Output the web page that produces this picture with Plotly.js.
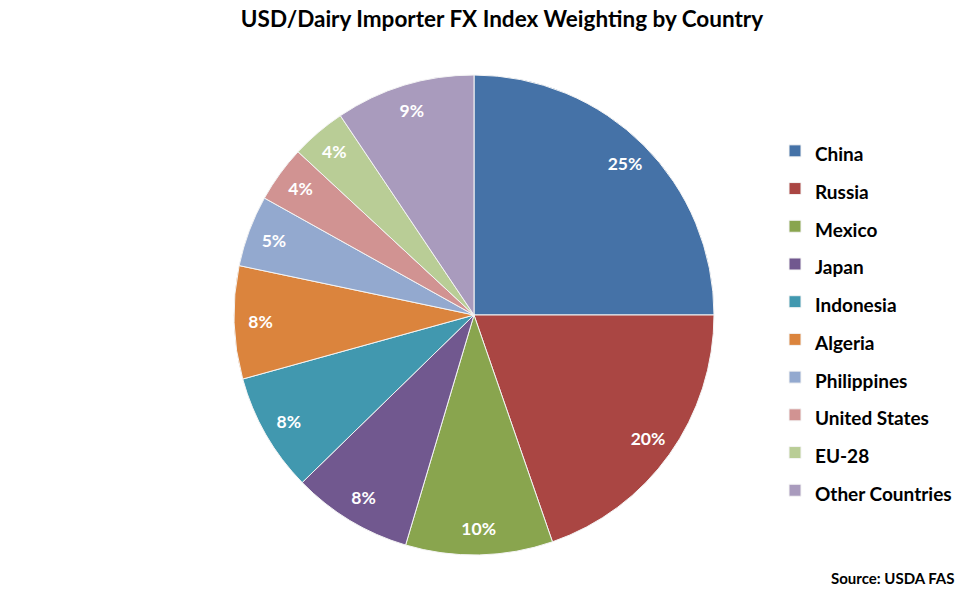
<!DOCTYPE html>
<html>
<head>
<meta charset="utf-8">
<script src="https://cdn.plot.ly/plotly-3.0.1.min.js"></script>
<style>html,body{margin:0;padding:0;background:#fff;}#chart{width:975px;height:600px;}</style>
</head>
<body>
<div id="chart"></div>
<script>
var countries = ["China", "Russia", "Mexico", "Japan", "Indonesia", "Algeria", "Philippines", "United States", "EU-28", "Other Countries"];
var weights = [25, 19.7, 9.9, 8.1, 8.0, 7.6, 4.8, 3.8, 3.7, 9.4];
var colors = ["#4572A7", "#AA4643", "#89A54E", "#71588F", "#4198AF", "#DB843D", "#93A9CF", "#D19392", "#B9CD96", "#A99BBD"];
var titleText = "USD/Dairy Importer FX Index Weighting by Country";
var sourceText = "Source: USDA FAS";

var FONT = "Lato, 'Open Sans', sans-serif";
var DOMAIN = { x: [234 / 975, 714 / 975], y: [1 - 555 / 600, 1 - 75 / 600] };

// Filled pie (slices + legend)
var pieTrace = {
  type: "pie",
  labels: countries.map(function (c) { return '<span style="font-size:19px">' + c + '</span>'; }),
  values: weights,
  sort: false,
  direction: "clockwise",
  rotation: 0,
  marker: { colors: colors, line: { color: "#f4f4f4", width: 1 } },
  textinfo: "none",
  domain: DOMAIN,
  hoverinfo: "label+percent"
};

// Transparent ring carrying the percentage labels near the rim
var labelTrace = {
  type: "pie",
  labels: countries.map(function (c) { return '<span style="font-size:19px">' + c + '</span>'; }),
  values: weights,
  sort: false,
  direction: "clockwise",
  rotation: 0,
  hole: 0.78,
  showlegend: false,
  marker: { colors: colors.map(function () { return "rgba(0,0,0,0)"; }), line: { width: 0 } },
  textinfo: "percent",
  texttemplate: "%{percent:.0%}",
  textposition: "inside",
  insidetextorientation: "horizontal",
  textfont: { family: FONT, size: 17.5, color: "#ffffff", weight: "bold" },
  domain: DOMAIN,
  hoverinfo: "skip"
};

var layout = {
  width: 975,
  height: 600,
  margin: { l: 0, r: 0, t: 0, b: 0 },
  paper_bgcolor: "#ffffff",
  uniformtext: { mode: "show", minsize: 17.5 },
  title: {
    text: "<b>" + titleText + "</b>",
    x: 502 / 975, xanchor: "center",
    y: 1 - 19 / 600, yanchor: "middle",
    font: { family: FONT, size: 22.5, color: "#000000" }
  },
  showlegend: true,
  legend: {
    x: 775 / 975, xanchor: "left",
    y: 1 - 127 / 600, yanchor: "top",
    font: { family: FONT, size: 26.7, color: "#000000", weight: "bold" },
    bgcolor: "rgba(0,0,0,0)"
  },
  annotations: [{
    text: "<b>" + sourceText + "</b>",
    xref: "paper", yref: "paper",
    x: 957 / 975, xanchor: "right",
    y: 1 - 578 / 600, yanchor: "middle",
    showarrow: false,
    font: { family: FONT, size: 15, color: "#000000" }
  }]
};

Plotly.newPlot("chart", [pieTrace, labelTrace], layout, { displayModeBar: false, staticPlot: true });
</script>
</body>
</html>
